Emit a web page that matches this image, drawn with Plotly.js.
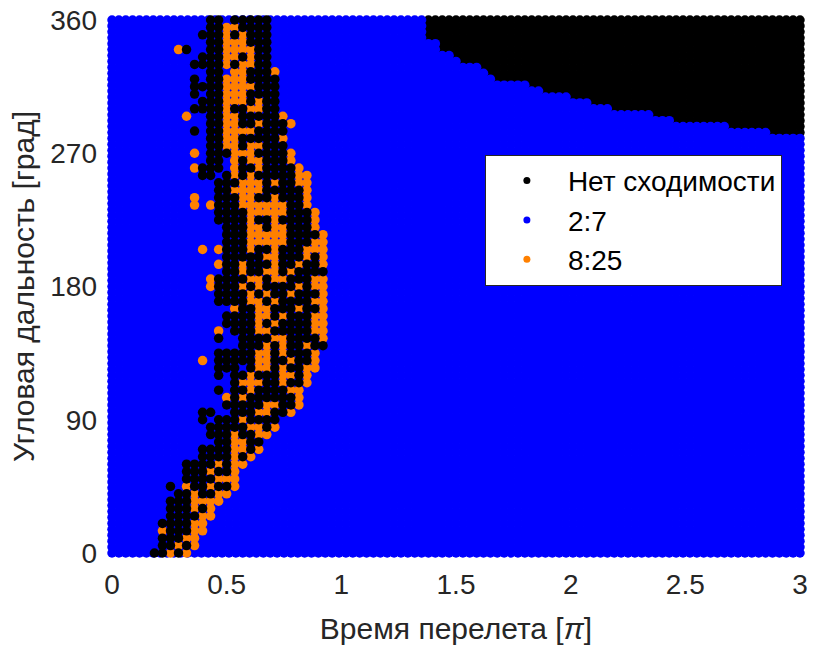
<!DOCTYPE html>
<html><head><meta charset="utf-8">
<script src="https://cdn.plot.ly/plotly-3.0.1.min.js"></script>
<style>html,body{margin:0;padding:0;background:#fff}#chart{width:821px;height:648px}</style>
</head><body><div id="chart"></div>
<script>
// Grid of computed cases (time of flight in units of pi, angular range in degrees)
const tofGrid = [0,0.03,0.06,0.09,0.12,0.15,0.18,0.21,0.24,0.27,0.3,0.33,0.36,0.39,0.42,0.45,0.48,0.51,0.54,0.57,0.6,0.63,0.66,0.69,0.72,0.75,0.78,0.81,0.84,0.87,0.9,0.93,0.96,0.99,1.02,1.05,1.08,1.11,1.14,1.17,1.2,1.23,1.26,1.29,1.32,1.35,1.38,1.41,1.44,1.47,1.5,1.53,1.56,1.59,1.62,1.65,1.68,1.71,1.74,1.77,1.8,1.83,1.86,1.89,1.92,1.95,1.98,2.01,2.04,2.07,2.1,2.13,2.16,2.19,2.22,2.25,2.28,2.31,2.34,2.37,2.4,2.43,2.46,2.49,2.52,2.55,2.58,2.61,2.64,2.67,2.7,2.73,2.76,2.79,2.82,2.85,2.88,2.91,2.94,2.97,3.0];
const rangeGrid = [0,4,8,12,16,20,24,28,32,36,40,44,48,52,56,60,64,68,72,76,80,84,88,92,96,100,104,108,112,116,120,124,128,132,136,140,144,148,152,156,160,164,168,172,176,180,184,188,192,196,200,204,208,212,216,220,224,228,232,236,240,244,248,252,256,260,264,268,272,276,280,284,288,292,296,300,304,308,312,316,320,324,328,332,336,340,344,348,352,356,360];

// Lower edge of the non-convergence region (upper right)
const noConvTof = [1.39,1.43,1.47,1.5,1.54,1.57,1.61,1.64,1.7,1.77,1.84,1.9,1.97,2.04,2.13,2.22,2.3,2.39,2.48,2.56,2.65,2.74,2.83,2.91,3.0];
const noConvMinRange = [347,340,337,334.5,331,329,325.5,323,318.7,316.5,314,311,308.6,305,302.5,299.6,296.7,294,291.7,290.5,288.3,286,285,283.8,282.5];

// Band of mixed solutions: columns (tof) and rows (range), cells: k = no convergence, o = 8:25, . = 2:7
const bandTof = [0.15,0.185,0.22,0.255,0.29,0.325,0.36,0.395,0.43,0.465,0.5,0.535,0.57,0.605,0.64,0.675,0.71,0.745,0.78,0.815,0.85,0.885,0.92,0.955];
const bandRange = [360,355,350,345,340,335,330,325,320,315,310,305,300,295,290,285,280,275,270,265,260,255,250,245,240,235,230,225,220,215,210,205,200,195,190,185,180,175,170,165,160,155,150,145,140,135,130,125,120,115,110,105,100,95,90,85,80,75,70,65,60,55,50,45,40,35,30,25,20,15,10,5,0];
const bandRows = [
"........kk.kkkkk........",
"........kkookkkk........",
".......kkkokokkk........",
"........kkoookkk........",
"....ok..kkooookk........",
".......kkkookokk........",
"......kkkkokookk........",
"........kk.ookkko.......",
"......k.kkoookkkk.......",
"......kkkkooookkk.......",
"......k.kkoookkkk.......",
".......kkkoookokk.......",
"......kkkkokkookk.......",
".....o..kkookkkkko......",
"........kkookkokkko.....",
"......k.kkooookkkk......",
"........kkookkkkko......",
"........kkookookkk......",
"......o.kkkoookkkko.....",
"........kk.okookkko.....",
"......okkk.okkokkkko....",
".......kk.kokokkkkkoo...",
".........kkkoookokkoo...",
".........kkooookkkkko...",
"......o..kkkookkokkko...",
"......o.okkkooooookko...",
".........kkkkoooookkko..",
".........kkkkokkokkkko..",
"..........kkkookookkko..",
"..........kkkoooookkkko.",
"..........kkkoooookkkoo.",
".......o.okkkokkokkkooo.",
"..........kkkkkookkkoko.",
".........okkokkkokkokko.",
"..........kkokkookokkkk.",
"........okkkkookookkkoo.",
"........okkkokokkkkokoo.",
".........kkkkokokkokkko.",
".........kkkkookokkkkoo.",
"...........okkookkkokko.",
"..........kkkkookokkkoo.",
"..........kkkkokokkkkoo.",
".........o.kkkookkkkkoo.",
".........k..kkkkookkkko.",
"............kkkokokkokk.",
".........kkkkkookokkko..",
".......o.kkkkkookkokko..",
".........kkk.kookokkoo..",
".........k.kkokkkooko...",
"...........koookkokko...",
".........k.kkokkkkoo....",
"..........okokkkkkko....",
"..........kkkkkookko....",
".......kk..kkkookko.....",
".......k.kkkokkkk.......",
"........kkkkkooko.......",
"........kkkokkoo........",
".........kkookk.........",
".......kkkkooko.........",
".......kkkkoko..........",
".....kkkkokoo...........",
".....kkkokko............",
".....kkkkooo............",
"...k.okkokko............",
"....kkokkoo.............",
"...kkkoooo..............",
"...kkkoko...............",
"...kkkkoo...............",
"..kkkkoo................",
"..okkkoo................",
"..kkkoo.................",
"..kkoko.................",
".kkoko.................."
];

const seriesNames = ["Нет сходимости", "2:7", "8:25"];
const seriesColors = ["#000000", "#0000FF", "#FF8000"];

function noConvLimit(x) {
  if (x < noConvTof[0] - 0.015) return Infinity;
  let best = 0;
  for (let i = 1; i < noConvTof.length; i++) {
    if (Math.abs(noConvTof[i] - x) < Math.abs(noConvTof[best] - x)) best = i;
  }
  return noConvMinRange[best];
}

const ncx = [], ncy = [], bx = [], by = [];
tofGrid.forEach(x => {
  const lim = noConvLimit(x);
  rangeGrid.forEach(y => {
    if (y >= lim) { ncx.push(x); ncy.push(y); } else { bx.push(x); by.push(y); }
  });
});

const ox = [], oy = [], kx = [], ky = [];
bandRows.forEach((row, r) => {
  for (let c = 0; c < row.length && c < bandTof.length; c++) {
    if (row[c] === 'o') { ox.push(bandTof[c]); oy.push(bandRange[r]); }
    else if (row[c] === 'k') { kx.push(bandTof[c]); ky.push(bandRange[r]); }
  }
});

const base = {type: 'scatter', mode: 'markers', cliponaxis: false, hoverinfo: 'skip', showlegend: false};
const traces = [
  Object.assign({}, base, {x: ncx, y: ncy, marker: {color: seriesColors[0], size: 9.5, line: {width: 0}}}),
  Object.assign({}, base, {x: bx, y: by, marker: {color: seriesColors[1], size: 9.5, line: {width: 0}}}),
  Object.assign({}, base, {x: ox, y: oy, marker: {color: seriesColors[2], size: 9.5, line: {width: 0}}}),
  Object.assign({}, base, {x: kx, y: ky, marker: {color: seriesColors[0], size: 9.5, line: {width: 0}}})
];
seriesNames.forEach((n, i) => {
  traces.push({type: 'scatter', mode: 'markers', x: [null], y: [null], name: n, showlegend: true,
    marker: {color: seriesColors[i], size: 7}});
});

const font = 'Liberation Sans, Arial, sans-serif';
const layout = {
  width: 821, height: 648,
  margin: {l: 112, r: 21, t: 20, b: 95, pad: 0},
  paper_bgcolor: '#ffffff', plot_bgcolor: '#ffffff',
  font: {family: font, color: '#262626', size: 24},
  xaxis: {range: [0, 3], tickvals: [0, 0.5, 1, 1.5, 2, 2.5, 3], ticktext: ['0', '0.5', '1', '1.5', '2', '2.5', '3'],
    showgrid: false, zeroline: false, showline: false, ticks: '', ticklabelstandoff: 12,
    tickfont: {size: 28, color: '#262626', family: font},
    title: {text: 'Время перелета [<i>π</i>]', font: {size: 30, color: '#262626', family: font}, standoff: 18}},
  yaxis: {range: [0, 360], tickvals: [0, 90, 180, 270, 360], ticktext: ['0', '90', '180', '270', '360'],
    showgrid: false, zeroline: false, showline: false, ticks: '', ticklabelstandoff: 14,
    tickfont: {size: 28, color: '#262626', family: font},
    title: {text: 'Угловая дальность [град]', font: {size: 30, color: '#262626', family: font}, standoff: 6}},
  legend: {x: 0.542, y: 0.747, xanchor: 'left', yanchor: 'top', bgcolor: '#ffffff',
    bordercolor: '#262626', borderwidth: 1, font: {size: 28, color: '#000000', family: font},
    itemwidth: 72, tracegroupgap: 0},
  showlegend: true
};
Plotly.newPlot('chart', traces, layout, {staticPlot: true, displayModeBar: false});
</script>
</body></html>
